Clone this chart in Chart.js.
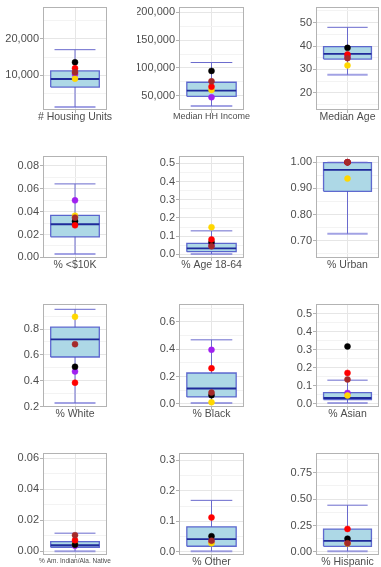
<!DOCTYPE html>
<html lang="en">
<head>
<meta charset="UTF-8">
<title>Tract profile boxplots</title>
<script src="https://cdn.jsdelivr.net/npm/chart.js"></script>
<style>
  body { margin: 0; background: #fff; }
  #wrap { position: relative; width: 381px; height: 567px; overflow: hidden; }
  #wrap canvas { position: absolute; }
</style>
</head>
<body>
<div id="wrap"></div>
<script>
// one boxplot per variable
const labels = ['# Housing Units', 'Median HH Income', 'Median Age', '% <$10K', '% Age 18-64', '% Urban',
  '% White', '% Black', '% Asian', '% Am. Indian/Ala. Native', '% Other', '% Hispanic'];
const whiskerLow  = [1300, 31400, 27.7, 0.003, 0.002, 0.727, 0.228, 0.0073, 0.0056, 0.0, 0.0023, 0.0066];
const boxLow      = [6780, 48900, 34.4, 0.018, 0.0147, 0.889, 0.584, 0.0512, 0.0244, 0.0026, 0.0187, 0.054];
const medians     = [9000, 59000, 36.6, 0.029, 0.033, 0.971, 0.72, 0.113, 0.0333, 0.0039, 0.0418, 0.1045];
const boxHigh     = [11220, 74200, 39.7, 0.0368, 0.06, 0.999, 0.815, 0.226, 0.0633, 0.0062, 0.0822, 0.2155];
const whiskerHigh = [17060, 109700, 48, 0.0643, 0.129, 1.0, 0.953, 0.468, 0.132, 0.0117, 0.169, 0.443];

// highlighted places
const purplePts = [10300, 47100, 35.5, 0.0499, 0.05, 1.0, 0.472, 0.395, 0.061, 0.0035, 0.033, 0.095];
const goldPts   = [9080, 60300, 31.7, 0.0365, 0.149, 0.9375, 0.895, 0.012, 0.047, 0.0046, 0.0286, 0.08];
const blackPts  = [13600, 94600, 39.2, 0.0316, 0.066, 1.0, 0.508, 0.064, 0.319, 0.0043, 0.0516, 0.126];
const redPts    = [11950, 66200, 36.4, 0.0281, 0.082, 1.0, 0.385, 0.261, 0.172, 0.0071, 0.113, 0.218];
const brownPts  = [10830, 76000, 34.8, 0.0348, 0.044, 1.0, 0.683, 0.083, 0.136, 0.0104, 0.037, 0.0826];

// axis limits and ticks
const yMin = [470, 24200, 12.6, -0.0005, -0.02, 0.634, 0.197, -0.022, -0.0167, -0.0024, -0.0099, -0.0285];
const yMax = [28800, 209700, 56.7, 0.0887, 0.54, 1.024, 0.994, 0.7295, 0.554, 0.0635, 0.324, 0.937];
const majorTicks = [
  [10000, 20000], [50000, 100000, 150000, 200000], [20, 30, 40, 50],
  [0, 0.02, 0.04, 0.06, 0.08], [0, 0.1, 0.2, 0.3, 0.4, 0.5], [0.7, 0.8, 0.9, 1.0],
  [0.2, 0.4, 0.6, 0.8], [0, 0.2, 0.4, 0.6], [0, 0.1, 0.2, 0.3, 0.4, 0.5],
  [0, 0.02, 0.04, 0.06], [0, 0.1, 0.2, 0.3], [0, 0.25, 0.5, 0.75]
];
const tickLabels = [
  ['10,000', '20,000'], ['50,000', '100,000', '150,000', '200,000'], ['20', '30', '40', '50'],
  ['0.00', '0.02', '0.04', '0.06', '0.08'], ['0.0', '0.1', '0.2', '0.3', '0.4', '0.5'], ['0.70', '0.80', '0.90', '1.00'],
  ['0.2', '0.4', '0.6', '0.8'], ['0.0', '0.2', '0.4', '0.6'], ['0.0', '0.1', '0.2', '0.3', '0.4', '0.5'],
  ['0.00', '0.02', '0.04', '0.06'], ['0.0', '0.1', '0.2', '0.3'], ['0.00', '0.25', '0.50', '0.75']
];
const minorTicks = [
  [5000, 15000, 25000], [75000, 125000, 175000], [15, 25, 35, 45, 55],
  [0.01, 0.03, 0.05, 0.07], [0.05, 0.15, 0.25, 0.35, 0.45], [0.65, 0.75, 0.85, 0.95],
  [0.3, 0.5, 0.7, 0.9], [0.1, 0.3, 0.5, 0.7], [0.05, 0.15, 0.25, 0.35, 0.45],
  [0.01, 0.03, 0.05], [0.05, 0.15, 0.25], [0.125, 0.375, 0.625, 0.875]
];

// layout (pixel edges of each plot panel)
const colLeft = [43, 179, 316], colRight = [107, 244, 379];
const rowTop = [7, 156, 304, 453], rowBottom = [110, 258, 407, 555];
const labelSize = [10.5, 9, 10.5, 10.5, 10.5, 10.5, 10.5, 10.5, 10.5, 6.5, 10.5, 10.5];

const pointSeries = [
  { color: '#A020F0', values: purplePts },
  { color: '#FFD700', values: goldPts },
  { color: '#000000', values: blackPts },
  { color: '#FF0000', values: redPts },
  { color: '#A52A2A', values: brownPts }
];

const mid = 0.5, boxL = 0.12, boxR = 0.88, capL = 0.18, capR = 0.82;

Chart.defaults.font.family = "'Liberation Sans', Arial, sans-serif";

const frame = {
  id: 'frame',
  afterDraw(chart) {
    const { ctx, chartArea: a } = chart;
    ctx.save();
    ctx.strokeStyle = '#B3B3B3';
    ctx.lineWidth = 1;
    ctx.strokeRect(Math.round(a.left) + 0.5, Math.round(a.top) + 0.5, Math.round(a.width) - 1, Math.round(a.height) - 1);
    ctx.restore();
  }
};

function seg(data, color, width, order, extra) {
  return Object.assign({ data, borderColor: color, borderWidth: width, pointRadius: 0, fill: false, tension: 0, order }, extra || {});
}

const wrap = document.getElementById('wrap');

labels.forEach((lab, i) => {
  const col = i % 3, row = Math.floor(i / 3);
  const l = colLeft[col], r = colRight[col], t = rowTop[row], b = rowBottom[row];
  const cv = document.createElement('canvas');
  cv.width = r - l + 42 + 14;
  cv.height = b - t + 10 + 16;
  cv.style.left = (l - 42) + 'px';
  cv.style.top = (t - 10) + 'px';
  wrap.appendChild(cv);

  const q1 = boxLow[i], q3 = boxHigh[i];
  const datasets = [
    seg([{ x: mid, y: whiskerLow[i] }, { x: mid, y: whiskerHigh[i] }], '#6A6ACD', 1, 20),
    seg([{ x: boxL, y: q3 }, { x: boxR, y: q3 }], 'rgba(0,0,0,0)', 0, 19,
      { fill: { value: q1 }, backgroundColor: '#ADD8E6' }),
    seg([{ x: boxL, y: q1 }, { x: boxR, y: q1 }, { x: boxR, y: q3 }, { x: boxL, y: q3 }, { x: boxL, y: q1 }],
      'rgba(70,80,200,0.85)', 1.3, 18),
    seg([{ x: boxL, y: medians[i] }, { x: boxR, y: medians[i] }], '#1F2A9A', 1.8, 17),
    seg([{ x: capL, y: whiskerHigh[i] }, { x: capR, y: whiskerHigh[i] }], '#6A6ACD', 1, 16),
    seg([{ x: capL, y: whiskerLow[i] }, { x: capR, y: whiskerLow[i] }], 'rgba(100,100,210,0.6)', 2, 15)
  ];
  pointSeries.forEach((s, k) => {
    datasets.push({
      data: [{ x: mid, y: s.values[i] }],
      showLine: false,
      pointRadius: 3,
      pointBackgroundColor: s.color,
      pointBorderColor: s.color,
      pointBorderWidth: 0.5,
      order: 10 - k
    });
  });

  const fs = labelSize[i];
  new Chart(cv, {
    type: 'line',
    data: { datasets },
    plugins: [frame],
    options: {
      responsive: false,
      animation: false,
      events: [],
      layout: { padding: { top: 10, right: 14, left: 0, bottom: 0 } },
      plugins: { legend: { display: false }, tooltip: { enabled: false } },
      scales: {
        x: {
          type: 'linear', min: 0, max: 1,
          afterBuildTicks: s => { s.ticks = [{ value: mid }]; },
          afterFit: s => { s.height = 16; s.paddingLeft = 0; s.paddingRight = 0; },
          ticks: {
            display: true, autoSkip: false, maxRotation: 0, minRotation: 0,
            color: '#4D4D4D', font: { size: fs }, padding: 3 - fs * 0.5,
            callback: () => lab
          },
          grid: { color: '#E6E6E6', tickColor: '#B3B3B3', tickLength: 3 },
          border: { display: false }
        },
        y: {
          type: 'linear', min: yMin[i], max: yMax[i], bounds: 'data',
          afterBuildTicks: s => {
            s.ticks = majorTicks[i].concat(minorTicks[i]).sort((a, c) => a - c).map(v => ({ value: v }));
          },
          afterFit: s => { s.width = 42; s.paddingTop = 0; s.paddingBottom = 0; },
          ticks: {
            autoSkip: false, color: '#4D4D4D', font: { size: 11 }, padding: 1,
            callback: v => {
              const k = majorTicks[i].indexOf(v);
              return k >= 0 ? tickLabels[i][k] : '';
            }
          },
          grid: {
            color: c => majorTicks[i].indexOf(c.tick.value) >= 0 ? '#E6E6E6' : '#F3F3F3',
            tickColor: c => majorTicks[i].indexOf(c.tick.value) >= 0 ? '#B3B3B3' : 'rgba(0,0,0,0)',
            tickLength: 3
          },
          border: { display: false }
        }
      }
    }
  });
});
</script>
</body>
</html>
